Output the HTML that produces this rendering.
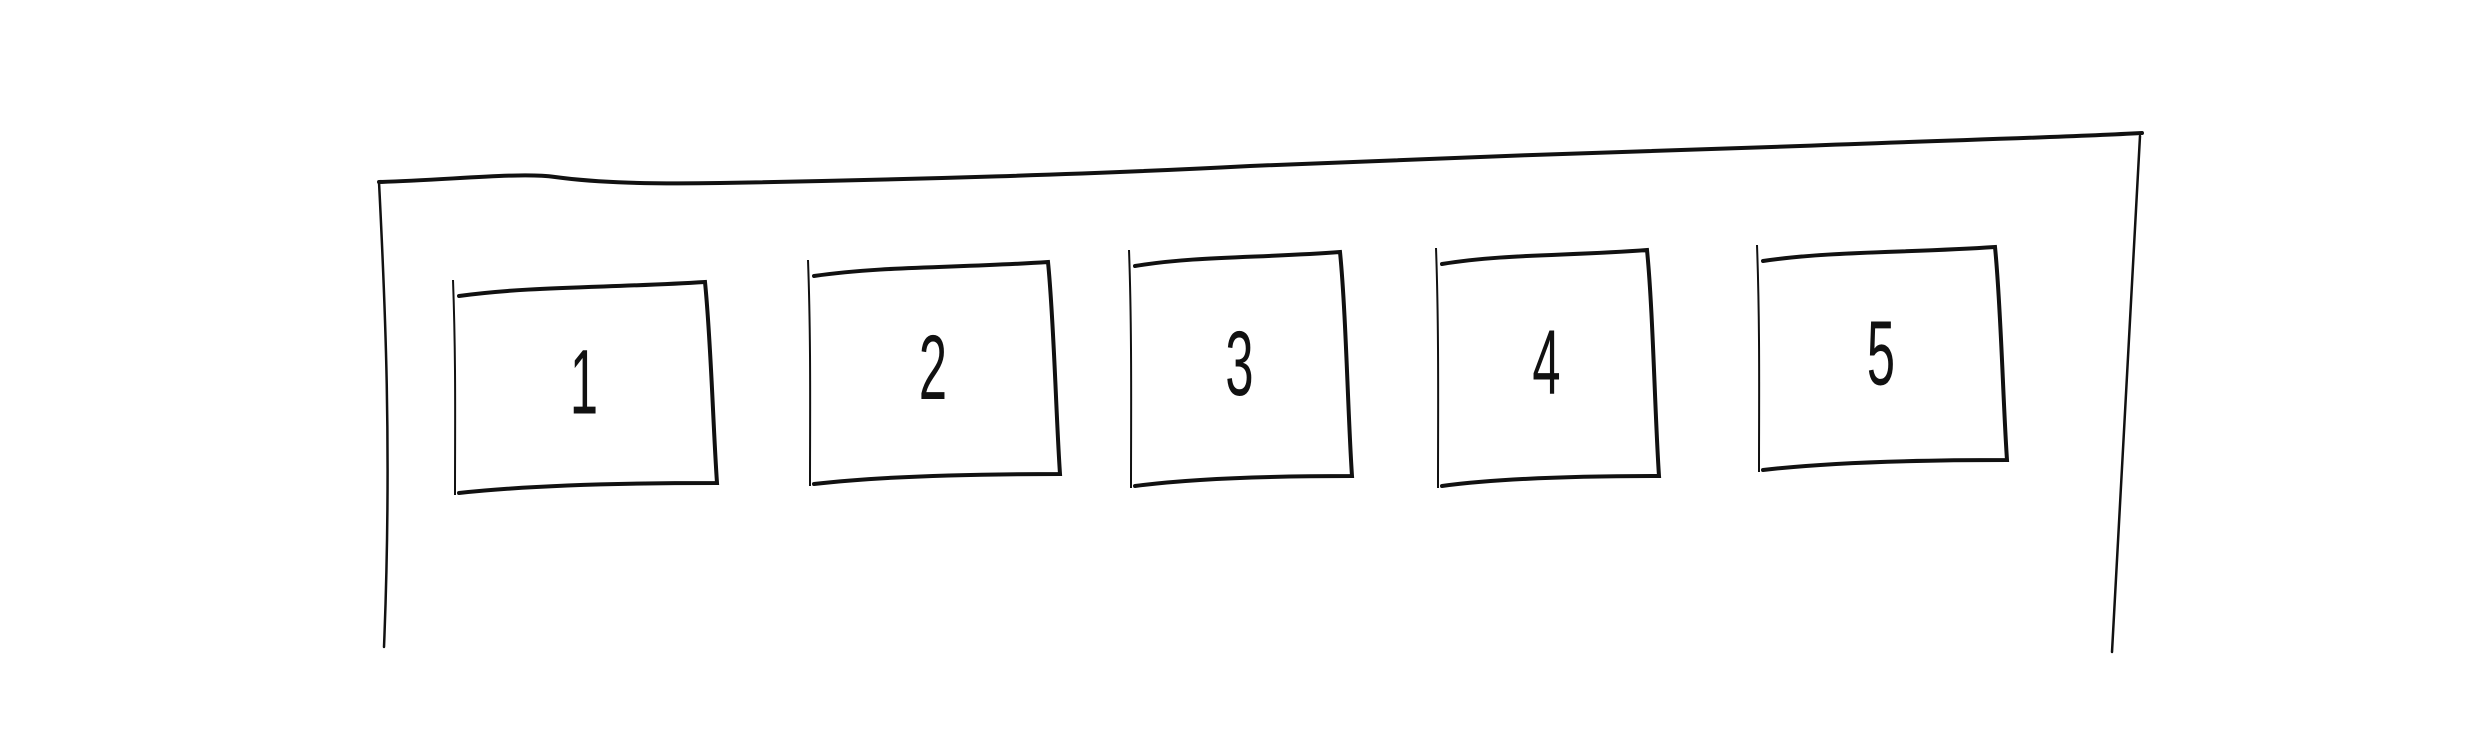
<!DOCTYPE html>
<html><head><meta charset="utf-8"><style>
html,body{margin:0;padding:0;background:#fff;}
svg{display:block;}
text{font-family:"Liberation Sans",sans-serif;font-size:92px;fill:#111;}
</style></head><body>
<svg id="s" width="2475" height="750" viewBox="0 0 2475 750">
<g fill="none" stroke="#111" stroke-linecap="round">
<path d="M379,182 C450,180 520,172 555,177 C600,183 650,184 720,183 C900,180 1100,174 1250,166 C1450,158 1600,152 1800,146 C1950,140 2050,138 2142,133" stroke-width="4"/>
<path d="M379,182 C385,300 392,450 384,647" stroke-width="2.5"/>
<path d="M2140,136 L2112,652" stroke-width="2.5"/>
</g>
<g id="boxes"></g>
</svg>
<script>
const labels = ["1","2","3","4","5"];
const boxLeft = [453, 808, 1129, 1436, 1757];
const boxRight = [715, 1058, 1350, 1657, 2005];
const boxTop = [282, 262, 252, 250, 247];
const boxBottom = [485, 476, 478, 478, 462];
const g = document.getElementById('boxes');
const NS = 'http://www.w3.org/2000/svg';
for (let i = 0; i < labels.length; i++) {
  const l = boxLeft[i], r = boxRight[i], t = boxTop[i], b = boxBottom[i];
  const grp = document.createElementNS(NS, 'g');
  
  
  const w = r - l;
  const p = document.createElementNS(NS, 'path');
  const d = `M${l+6},${t+14} C${l+w*0.3},${t+4} ${l+w*0.6},${t+6} ${r-10},${t} ` +
            `C${r-4},${t+60} ${r-2},${b-60} ${r+2},${b-2} ` +
            `C${l+w*0.7},${b-2} ${l+w*0.3},${b} ${l+6},${b+8}`;
  p.setAttribute('d', d);
  p.setAttribute('fill', 'none');
  p.setAttribute('stroke', '#111');
  p.setAttribute('stroke-width', '4');
  p.setAttribute('stroke-linecap', 'round');
  
  
  grp.appendChild(p);
  const q = document.createElementNS(NS, 'path');
  q.setAttribute('d', `M${l},${t-2} C${l+3},${t+80} ${l+2},${b-60} ${l+2},${b+10}`);
  q.setAttribute('fill', 'none');
  q.setAttribute('stroke', '#111');
  q.setAttribute('stroke-width', '2');
  
  
  grp.appendChild(q);
  const tx = document.createElementNS(NS, 'text');
  const cx = (l + r) / 2, cy = (t + b) / 2 + 30;
  tx.setAttribute('x', 0);
  tx.setAttribute('y', 0);
  tx.setAttribute('text-anchor', 'middle');
  tx.setAttribute('transform', `translate(${cx},${cy}) scale(0.55,1)`);
  tx.textContent = labels[i];
  
  
  grp.appendChild(tx);
  g.appendChild(grp);
}
</script>
</body></html>
